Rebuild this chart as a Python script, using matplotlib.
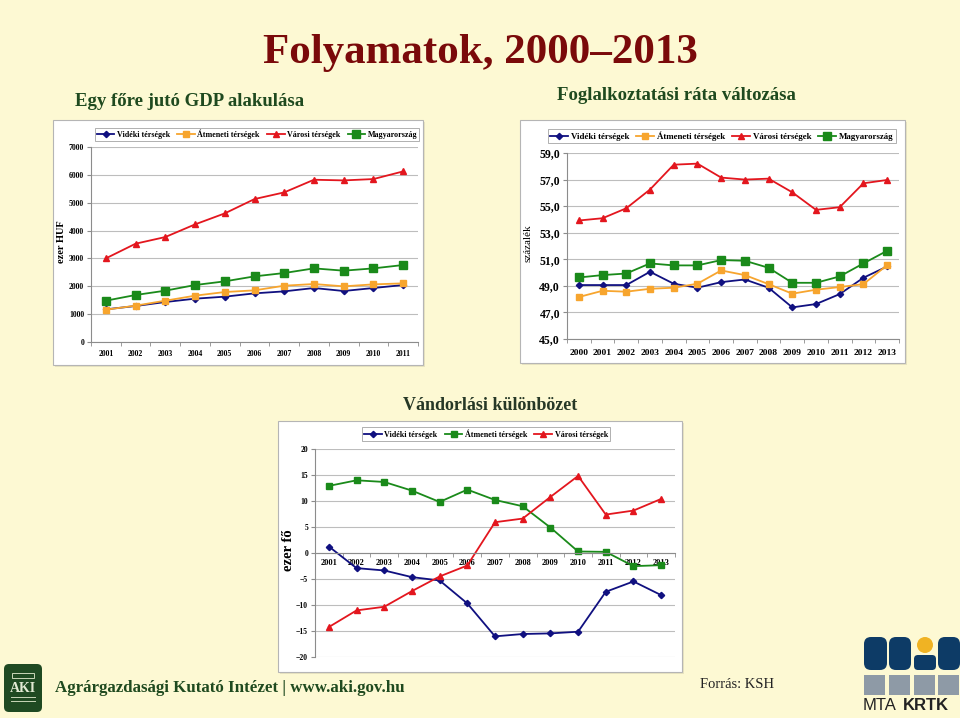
import matplotlib
matplotlib.use('Agg')
import matplotlib.pyplot as plt
from matplotlib.patches import Rectangle, FancyBboxPatch, Circle
from matplotlib.ticker import MultipleLocator, FuncFormatter, FixedLocator
import numpy as np

W, H = 960, 718
BG = '#FDF9D3'

# ---------------- data ----------------
gdp_years = [str(y) for y in range(2001, 2012)]
gdp_videki = [1172, 1292, 1435, 1555, 1627, 1746, 1818, 1938, 1830, 1938, 2045]
gdp_atmeneti = [1160, 1304, 1483, 1663, 1794, 1854, 2021, 2081, 1998, 2069, 2105]
gdp_varosi = [3002, 3529, 3768, 4222, 4617, 5131, 5371, 5825, 5801, 5849, 6124]
gdp_magyar = [1483, 1687, 1842, 2045, 2177, 2356, 2476, 2643, 2560, 2643, 2763]

emp_years = [str(y) for y in range(2000, 2014)]
emp_videki = [49.06, 49.06, 49.06, 50.06, 49.16, 48.86, 49.28, 49.48, 48.86, 47.38, 47.63, 48.38, 49.61, 50.46]
emp_atmeneti = [48.16, 48.63, 48.56, 48.78, 48.86, 49.16, 50.16, 49.81, 49.13, 48.41, 48.71, 48.91, 49.13, 50.56]
emp_varosi = [53.92, 54.09, 54.84, 56.25, 58.12, 58.20, 57.15, 57.00, 57.07, 56.04, 54.72, 54.92, 56.72, 56.97]
emp_magyar = [49.63, 49.81, 49.93, 50.69, 50.54, 50.54, 50.94, 50.89, 50.36, 49.23, 49.23, 49.71, 50.69, 51.64]
emp_ticks = [45, 47, 49, 51, 53, 55, 57, 59]

mig_years = [str(y) for y in range(2001, 2014)]
mig_videki = [1.25, -2.91, -3.36, -4.64, -5.28, -9.70, -16.03, -15.58, -15.46, -15.14, -7.46, -5.47, -8.10]
mig_atmeneti = [12.9, 13.98, 13.66, 12.0, 9.82, 12.19, 10.2, 8.99, 4.9, 0.29, 0.22, -2.53, -2.34]
mig_varosi = [-14.24, -11.04, -10.34, -7.33, -4.51, -2.4, 5.92, 6.62, 10.78, 14.82, 7.39, 8.16, 10.4]

labels4 = ['Vidéki térségek', 'Átmeneti térségek', 'Városi térségek', 'Magyarország']

NAVY = '#101080'
ORANGE = '#F7A52E'
RED = '#E3161E'
GREEN = '#1A8A1A'
GRID = '#BDBDBD'
AXC = '#8C8C8C'

plt.rcParams['font.family'] = ['Liberation Serif', 'DejaVu Serif']
plt.rcParams['font.weight'] = 'bold'

fig = plt.figure(figsize=(W / 100, H / 100), dpi=100, facecolor=BG)


def rect(x0, y0, x1, y1):
    return [x0 / W, 1 - y1 / H, (x1 - x0) / W, (y1 - y0) / H]


def fx(x):
    return x / W


def fy(y):
    return 1 - y / H


# background overlay axes in pixel coordinates
bg = fig.add_axes([0, 0, 1, 1], zorder=-1)
bg.set_xlim(0, W)
bg.set_ylim(H, 0)
bg.axis('off')

# panels
for (x0, y0, x1, y1) in [(53, 120, 423, 365), (520, 120, 905, 363), (278, 421, 682, 672)]:
    bg.add_patch(Rectangle((x0 + 2, y0 + 2), x1 - x0, y1 - y0, facecolor='#E8E4C0', edgecolor='none'))
    bg.add_patch(Rectangle((x0, y0), x1 - x0, y1 - y0, facecolor='white', edgecolor='#B5B5B5', lw=0.8))


def style_axes(ax, years, ylim, yticks, fs_x, fs_y, yfmt=None, xpad=4):
    n = len(years)
    ax.set_facecolor('none')
    ax.set_xlim(-0.5, n - 0.5)
    ax.set_ylim(*ylim)
    ax.yaxis.set_major_locator(FixedLocator(yticks))
    if yfmt is not None:
        ax.yaxis.set_major_formatter(FuncFormatter(yfmt))
    ax.grid(axis='y', color=GRID, lw=0.8)
    ax.set_axisbelow(True)
    for s in ['top', 'right']:
        ax.spines[s].set_visible(False)
    for s in ['left', 'bottom']:
        ax.spines[s].set_color(AXC)
        ax.spines[s].set_linewidth(0.8)
    ax.set_xticks(range(n))
    ax.set_xticklabels(years)
    ax.set_xticks(np.arange(-0.5, n, 1.0), minor=True)
    ax.tick_params(axis='x', which='major', length=0, pad=xpad, labelsize=fs_x)
    ax.tick_params(axis='x', which='minor', length=3, color=AXC, direction='out')
    ax.tick_params(axis='y', length=3, color=AXC, labelsize=fs_y, pad=2)


# ---------------- titles ----------------
bg.text(480, 53, 'Folyamatok, 2000\u20132013', ha='center', va='center', fontsize=31,
        color='#7A0A0A', fontweight='bold')
bg.text(190, 101, 'Egy főre jutó GDP alakulása', ha='center', va='center', fontsize=13.5,
        color='#1F4A1F', fontweight='bold')
bg.text(676, 96, 'Foglalkoztatási ráta változása', ha='center', va='center', fontsize=13.5,
        color='#1F4A1F', fontweight='bold')
bg.text(490, 405, 'Vándorlási különbözet', ha='center', va='center', fontsize=13,
        color='#263826', fontweight='bold')

# ---------------- left chart: GDP ----------------
ax1 = fig.add_axes(rect(91, 147, 418, 342), zorder=1)
x = np.arange(len(gdp_years))
l1 = ax1.plot(x, gdp_videki, color=NAVY, marker='D', ms=3.2, lw=1.3)[0]
l2 = ax1.plot(x, gdp_atmeneti, color=ORANGE, marker='s', ms=4, lw=1.3)[0]
l3 = ax1.plot(x, gdp_varosi, color=RED, marker='^', ms=4.8, lw=1.3)[0]
l4 = ax1.plot(x, gdp_magyar, color=GREEN, marker='s', ms=5.5, lw=1.3)[0]
style_axes(ax1, gdp_years, (0, 7000), list(range(0, 7001, 1000)), 5.6, 5.6, xpad=6)
bg.text(62, 242, 'ezer HUF', rotation=90, ha='center', va='center', fontsize=7.5, fontweight='bold')
leg1 = fig.legend([l1, l2, l3, l4], labels4, loc='center', bbox_to_anchor=(fx(257), fy(134.5)),
                  ncol=4, fontsize=5.8, frameon=True, fancybox=False, edgecolor=AXC,
                  handlelength=2.2, handletextpad=0.3, columnspacing=0.9, borderpad=0.25)
leg1.get_frame().set_linewidth(0.6)

# ---------------- right chart: employment ----------------
ax2 = fig.add_axes(rect(567, 153, 899, 339), zorder=1)
x = np.arange(len(emp_years))
r1 = ax2.plot(x, emp_videki, color=NAVY, marker='D', ms=3.2, lw=1.3)[0]
r2 = ax2.plot(x, emp_atmeneti, color=ORANGE, marker='s', ms=4, lw=1.3)[0]
r3 = ax2.plot(x, emp_varosi, color=RED, marker='^', ms=4.8, lw=1.3)[0]
r4 = ax2.plot(x, emp_magyar, color=GREEN, marker='s', ms=5.5, lw=1.3)[0]
style_axes(ax2, emp_years, (45, 59), emp_ticks, 6.8, 8.5,
           yfmt=lambda v, p: ('%.1f' % v).replace('.', ','), xpad=7)
bg.text(528, 243, 'százalék', rotation=90, ha='center', va='center', fontsize=8, fontweight='normal')
leg2 = fig.legend([r1, r2, r3, r4], labels4, loc='center', bbox_to_anchor=(fx(722), fy(136)),
                  ncol=4, fontsize=6.4, frameon=True, fancybox=False, edgecolor=AXC,
                  handlelength=2.0, handletextpad=0.3, columnspacing=0.8, borderpad=0.25)
leg2.get_frame().set_linewidth(0.6)

# ---------------- bottom chart: migration ----------------
ax3 = fig.add_axes(rect(315, 449, 675, 657), zorder=1)
x = np.arange(len(mig_years))
m1 = ax3.plot(x, mig_videki, color=NAVY, marker='D', ms=3.2, lw=1.3)[0]
m2 = ax3.plot(x, mig_atmeneti, color=GREEN, marker='s', ms=4.2, lw=1.3)[0]
m3 = ax3.plot(x, mig_varosi, color=RED, marker='^', ms=4.5, lw=1.3)[0]
style_axes(ax3, mig_years, (-20, 20), list(range(-20, 21, 5)), 6, 5.5, xpad=4)
ax3.spines['bottom'].set_position(('data', 0))
bg.text(288, 550, 'ezer fő', rotation=90, ha='center', va='center', fontsize=10.5, fontweight='bold')
leg3 = fig.legend([m1, m2, m3], labels4[:3], loc='center', bbox_to_anchor=(fx(486), fy(434)),
                  ncol=3, fontsize=5.8, frameon=True, fancybox=False, edgecolor=AXC,
                  handlelength=2.2, handletextpad=0.3, columnspacing=0.9, borderpad=0.25)
leg3.get_frame().set_linewidth(0.6)

# ---------------- footer ----------------
# AKI logo
bg.add_patch(FancyBboxPatch((4, 664), 38, 48, boxstyle='round,pad=0,rounding_size=5',
                            facecolor='#1F4A22', edgecolor='none'))
bg.add_patch(Rectangle((12, 673), 22, 5, facecolor='none', edgecolor='#C9D6B8', lw=0.7))
bg.text(23, 688, 'AKI', ha='center', va='center', fontsize=10, color='#E2EAD4', fontweight='bold')
bg.plot([11, 35], [697, 697], color='#C9D6B8', lw=0.7)
bg.plot([11, 35], [701, 701], color='#C9D6B8', lw=0.7)
bg.text(55, 688, 'Agrárgazdasági Kutató Intézet | www.aki.gov.hu', ha='left', va='center',
        fontsize=12.2, color='#1F4A1F', fontweight='bold')
bg.text(700, 684, 'Forrás: KSH', ha='left', va='center', fontsize=10.5, color='#222222',
        fontweight='normal')

# MTA KRTK logo
NV = '#0D3B66'
bg.add_patch(FancyBboxPatch((864, 637), 23, 33, boxstyle='round,pad=0,rounding_size=7',
                            facecolor=NV, edgecolor='none'))
bg.add_patch(FancyBboxPatch((889, 637), 22, 33, boxstyle='round,pad=0,rounding_size=7',
                            facecolor=NV, edgecolor='none'))
bg.add_patch(Circle((925, 645), 8, facecolor='#F0B323', edgecolor='none'))
bg.add_patch(FancyBboxPatch((914, 655), 22, 15, boxstyle='round,pad=0,rounding_size=4',
                            facecolor=NV, edgecolor='none'))
bg.add_patch(FancyBboxPatch((938, 637), 22, 33, boxstyle='round,pad=0,rounding_size=7',
                            facecolor=NV, edgecolor='none'))
for gx in [864, 889, 914, 938]:
    bg.add_patch(Rectangle((gx, 675), 21, 20, facecolor='#8E9AA6', edgecolor='none'))
bg.text(863, 706, 'MTA', ha='left', va='center', fontsize=12, color='#222222',
        fontweight='normal', family=['Liberation Sans', 'DejaVu Sans'])
bg.text(903, 706, 'KRTK', ha='left', va='center', fontsize=12, color='#222222',
        fontweight='bold', family=['Liberation Sans', 'DejaVu Sans'])

fig.savefig('out.png', dpi=100, facecolor=BG)
